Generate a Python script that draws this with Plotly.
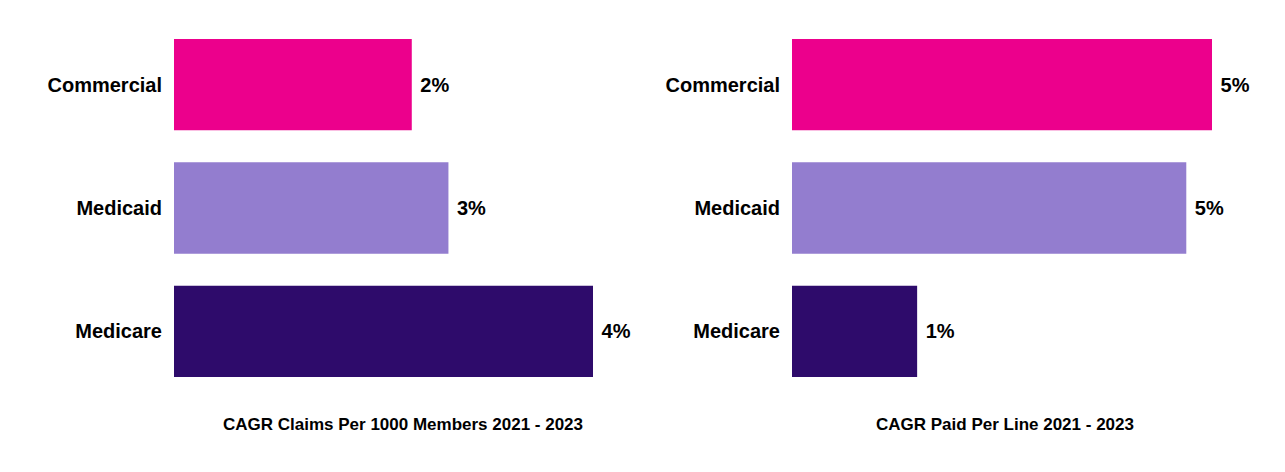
import plotly.graph_objects as go

categories = ["Commercial", "Medicaid", "Medicare"]
claims_cagr = [2.27, 2.62, 4.0]
paid_cagr = [4.9, 4.6, 1.46]
colors = ["#EC008C", "#937DCF", "#2E0B6B"]
titles = ["CAGR Claims Per 1000 Members 2021 - 2023", "CAGR Paid Per Line 2021 - 2023"]

OFF = 8  # page body margin
W, H = 1285 - OFF, 472 - OFF
FONT = "Liberation Sans, Arial, sans-serif"

fig = go.Figure()
fig.add_trace(go.Bar(
    y=categories, x=claims_cagr, orientation="h",
    marker=dict(color=colors, line=dict(width=0)),
    texttemplate=" %{x:.0f}%", textposition="outside", cliponaxis=False,
    textfont=dict(family=FONT, size=20, color="black", weight="bold"),
    xaxis="x", yaxis="y", showlegend=False, hoverinfo="skip",
))
fig.add_trace(go.Bar(
    y=categories, x=paid_cagr, orientation="h",
    marker=dict(color=colors, line=dict(width=0)),
    texttemplate=" %{x:.0f}%", textposition="outside", cliponaxis=False,
    textfont=dict(family=FONT, size=20, color="black", weight="bold"),
    xaxis="x2", yaxis="y2", showlegend=False, hoverinfo="skip",
))

lx = 174 - OFF
rx = 792 - OFF
l0 = lx / W
l1 = (lx + 419 * 5 / 4.0) / W
r0 = rx / W
r1 = (rx + 420 * 5.5 / 4.9) / W

top = 23 - OFF
bot = 393 - OFF
plot_h = bot - top

xcommon = dict(showgrid=False, zeroline=False, showticklabels=False, showline=False, ticks="")
ycommon = dict(showgrid=False, zeroline=False, showline=False, ticks="",
               autorange="reversed", ticklabelstandoff=11,
               tickfont=dict(family=FONT, size=20, color="black", weight="bold"))

title_y = (bot - (424 - OFF)) / plot_h

fig.update_layout(
    width=W, height=H,
    margin=dict(l=0, r=0, t=top, b=H - bot),
    paper_bgcolor="white", plot_bgcolor="white",
    bargap=0.26,
    xaxis=dict(domain=[l0, l1], range=[0, 5], **xcommon),
    yaxis=dict(anchor="x", **ycommon),
    xaxis2=dict(domain=[r0, r1], range=[0, 5.5], anchor="y2", **xcommon),
    yaxis2=dict(anchor="x2", **ycommon),
    annotations=[
        dict(text=titles[0], x=(403 - OFF) / W, y=title_y, xref="paper", yref="paper",
             xanchor="center", yanchor="middle", showarrow=False,
             font=dict(family=FONT, size=17, color="black", weight="bold")),
        dict(text=titles[1], x=(1005 - OFF) / W, y=title_y, xref="paper", yref="paper",
             xanchor="center", yanchor="middle", showarrow=False,
             font=dict(family=FONT, size=17, color="black", weight="bold")),
    ],
)

fig.write_html("out.html")
